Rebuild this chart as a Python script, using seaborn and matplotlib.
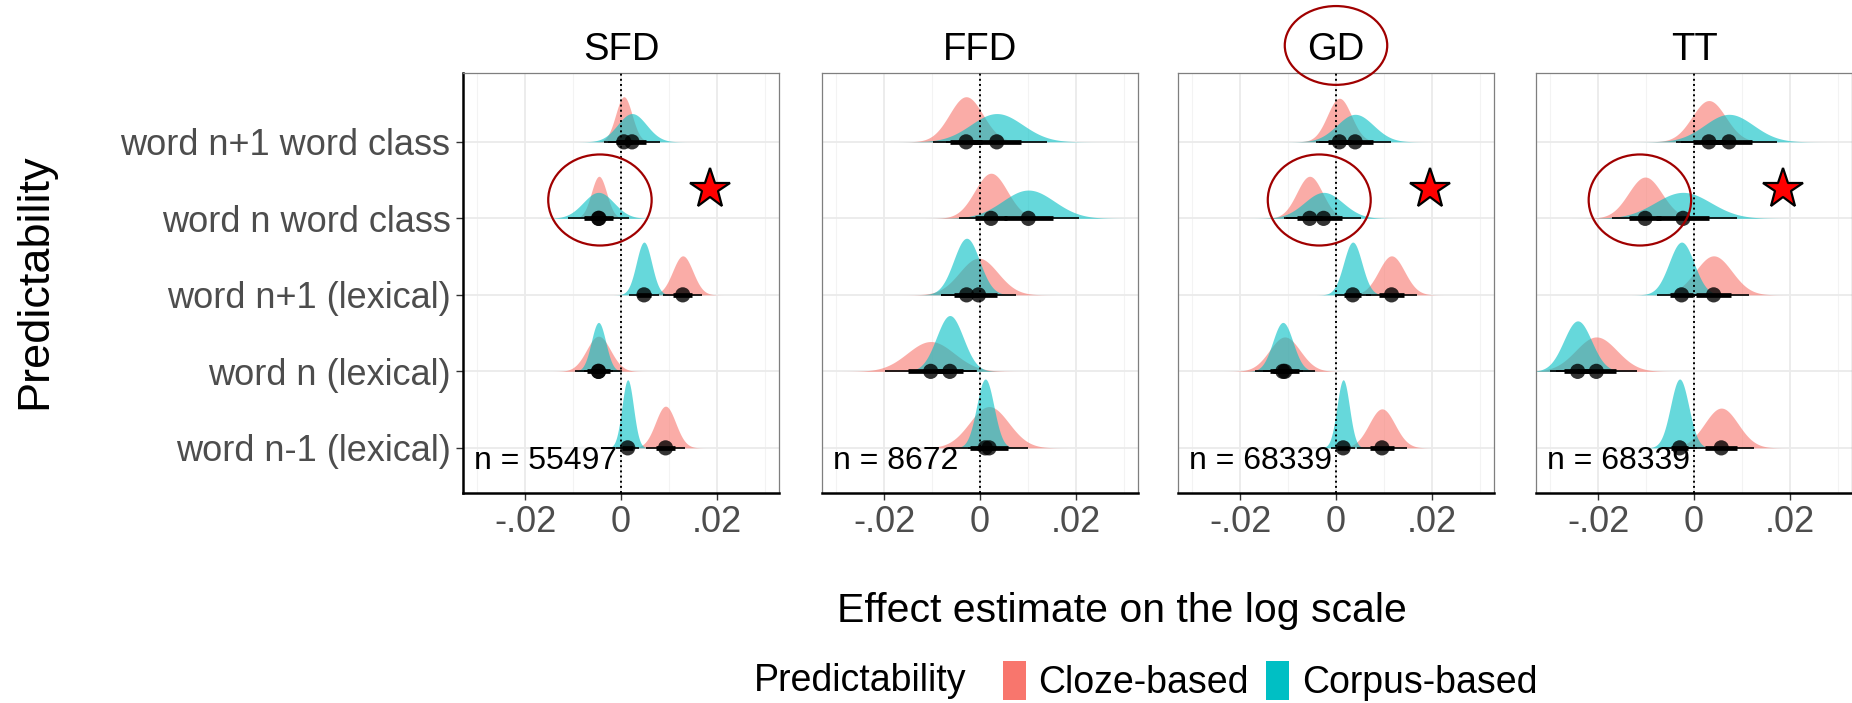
import numpy as np
import pandas as pd
import matplotlib
matplotlib.use("Agg")
import matplotlib.pyplot as plt
from matplotlib.patches import Ellipse, Patch
import seaborn as sns


facets = ["SFD", "FFD", "GD", "TT"]
n_obs = ["n = 55497", "n = 8672", "n = 68339", "n = 68339"]
# bottom -> top
rows = ["word n-1 (lexical)", "word n (lexical)", "word n+1 (lexical)",
        "word n word class", "word n+1 word class"]
groups = ["Cloze-based", "Corpus-based"]
xticks = [-0.02, 0, 0.02]
xtick_labels = ["-.02", "0", ".02"]

# posterior summaries: median, sd, relative peak density
cloze_median = {
    "SFD": [0.0093, -0.0047, 0.0129, -0.0046, 0.0006],
    "FFD": [0.0019, -0.0103, -0.0003, 0.0023, -0.0029],
    "GD":  [0.0096, -0.0107, 0.0116, -0.0055, 0.0007],
    "TT":  [0.0057, -0.0204, 0.0041, -0.0102, 0.0031],
}
cloze_sd = {
    "SFD": [0.0021, 0.0025, 0.0021, 0.0016, 0.0017],
    "FFD": [0.0041, 0.0049, 0.0040, 0.0034, 0.0035],
    "GD":  [0.0027, 0.0032, 0.0027, 0.0027, 0.0025],
    "TT":  [0.0035, 0.0043, 0.0038, 0.0035, 0.0035],
}
cloze_peak = {
    "SFD": [0.545, 0.46, 0.51, 0.55, 0.59],
    "FFD": [0.54, 0.39, 0.48, 0.59, 0.59],
    "GD":  [0.51, 0.45, 0.51, 0.55, 0.57],
    "TT":  [0.52, 0.45, 0.51, 0.54, 0.54],
}
corpus_median = {
    "SFD": [0.0014, -0.0047, 0.0048, -0.0047, 0.0023],
    "FFD": [0.0011, -0.0063, -0.0028, 0.0101, 0.0035],
    "GD":  [0.0015, -0.0111, 0.0035, -0.0026, 0.0040],
    "TT":  [-0.0030, -0.0243, -0.0026, -0.0023, 0.0073],
}
corpus_sd = {
    "SFD": [0.0012, 0.0015, 0.0016, 0.0032, 0.0030],
    "FFD": [0.0018, 0.0028, 0.0027, 0.0054, 0.0054],
    "GD":  [0.0013, 0.0021, 0.0019, 0.0040, 0.0038],
    "TT":  [0.0019, 0.0029, 0.0026, 0.0058, 0.0051],
}
corpus_peak = {
    "SFD": [0.89, 0.64, 0.69, 0.34, 0.37],
    "FFD": [0.90, 0.73, 0.74, 0.37, 0.37],
    "GD":  [0.89, 0.64, 0.69, 0.34, 0.36],
    "TT":  [0.90, 0.66, 0.69, 0.34, 0.36],
}

# annotations: stars and circles
star_facets = ["SFD", "GD", "TT"]
star_x = [0.0185, 0.0197, 0.0185]
star_y = [3.38, 3.38, 3.38]
circle_facets = ["SFD", "GD", "TT", "GD"]
circle_x = [-0.0044, -0.0035, -0.0113, 0.0]
circle_y = [3.24, 3.24, 3.24, 5.26]
circle_w = [0.0216, 0.0215, 0.0214, 0.0214]
circle_h = [1.19, 1.19, 1.19, 1.03]

colors = {"Cloze-based": "#F8766D", "Corpus-based": "#00BFC4"}

sns.set_theme(style="whitegrid")
plt.rcParams["font.family"] = ["Liberation Sans", "DejaVu Sans"]
plt.rcParams["text.color"] = "black"

recs = []
for f in facets:
    for g, med, sd, pk in [("Cloze-based", cloze_median, cloze_sd, cloze_peak),
                           ("Corpus-based", corpus_median, corpus_sd, corpus_peak)]:
        for i, r in enumerate(rows):
            recs.append({"facet": f, "group": g, "row": i, "median": med[f][i],
                         "sd": sd[f][i], "peak": pk[f][i]})
df = pd.DataFrame(recs)

W, H = 1852, 703
fig = plt.figure(figsize=(W / 100, H / 100), dpi=100)
lefts = [463, 822, 1178, 1536]
pw = 316
top, bottom = 73, 493

for k, f in enumerate(facets):
    ax = fig.add_axes([lefts[k] / W, 1 - bottom / H, pw / W, (bottom - top) / H])
    sub = df[df["facet"] == f]

    # half-eye slabs
    for _, r in sub.iterrows():
        xs = np.linspace(r["median"] - 4 * r["sd"], r["median"] + 4 * r["sd"], 300)
        th = r["peak"] * np.exp(-0.5 * ((xs - r["median"]) / r["sd"]) ** 2)
        ax.fill_between(xs, r["row"], r["row"] + th, color=colors[r["group"]],
                        alpha=0.6, lw=0, zorder=2)

    # intervals (66% thick, 95% thin)
    ax.hlines(sub["row"], sub["median"] - 1.96 * sub["sd"], sub["median"] + 1.96 * sub["sd"],
              color="black", lw=1.2, zorder=3)
    ax.hlines(sub["row"], sub["median"] - 0.954 * sub["sd"], sub["median"] + 0.954 * sub["sd"],
              color="black", lw=3.4, zorder=3)
    sns.scatterplot(data=sub, x="median", y="row", color="black", s=120, alpha=0.8,
                    edgecolor="none", legend=False, ax=ax, zorder=4)

    ax.axvline(0, color="black", ls=":", lw=1.4, zorder=3)

    for sf, sx, sy in zip(star_facets, star_x, star_y):
        if sf == f:
            ax.plot(sx, sy, marker="*", ms=30, mfc="red", mec="black", mew=1.6, zorder=6)
    for cf, cx, cy, cw, ch in zip(circle_facets, circle_x, circle_y, circle_w, circle_h):
        if cf == f:
            ax.add_patch(Ellipse((cx, cy), cw, ch, fill=False, ec="#A00000", lw=1.6,
                                 zorder=6, clip_on=False))

    ax.text(-0.0306, -0.17, n_obs[k], fontsize=23, ha="left", va="center", color="black",
            zorder=7)

    ax.set_xlim(-0.033, 0.033)
    ax.set_ylim(-0.59, 4.9)
    ax.set_xticks(xticks)
    ax.set_xticklabels(xtick_labels)
    ax.set_xticks([-0.03, -0.01, 0.01, 0.03], minor=True)
    ax.set_yticks(range(len(rows)))
    if k == 0:
        ax.set_yticklabels(rows)
    else:
        ax.set_yticklabels([])
    ax.grid(which="major", color="#EBEBEB", lw=1.3)
    ax.grid(which="minor", axis="x", color="#F3F3F3", lw=0.8)
    ax.set_axisbelow(True)
    ax.set_xlabel("")
    ax.set_ylabel("")
    ax.tick_params(axis="both", which="major", labelsize=26, labelcolor="#4D4D4D",
                   length=5, width=1, color="#333333", pad=4)
    ax.tick_params(axis="x", which="minor", length=0)
    if k != 0:
        ax.tick_params(axis="y", length=0)
    ax.tick_params(bottom=True, left=(k == 0))
    for s in ax.spines.values():
        s.set_color("#7F7F7F")
        s.set_linewidth(0.9)
    ax.spines["bottom"].set_color("black")
    ax.spines["bottom"].set_linewidth(1.8)
    if k == 0:
        ax.spines["left"].set_color("black")
        ax.spines["left"].set_linewidth(1.8)
    ax.set_title(f, fontsize=27.5, pad=9, color="black")

fig.text(35 / W, 1 - 281 / H, "Predictability", rotation=90, fontsize=32.5,
         ha="center", va="center", color="black")
fig.text(1122 / W, 1 - 611 / H, "Effect estimate on the log scale", fontsize=29.5,
         ha="center", va="center", color="black")

fig.text(966 / W, 1 - 681 / H, "Predictability", fontsize=27, ha="right", va="center",
         color="black")
handles = [Patch(facecolor=colors[g], edgecolor="none", label=g) for g in groups]
leg = fig.legend(handles=handles, loc="center left", bbox_to_anchor=(1003 / W, 1 - 681 / H),
                 ncol=2, frameon=False, fontsize=27, handlelength=0.6, handleheight=1.25,
                 handletextpad=0.35, columnspacing=0.45, borderaxespad=0, borderpad=0)
for t in leg.get_texts():
    t.set_color("black")

fig.savefig("out.png", dpi=100)
